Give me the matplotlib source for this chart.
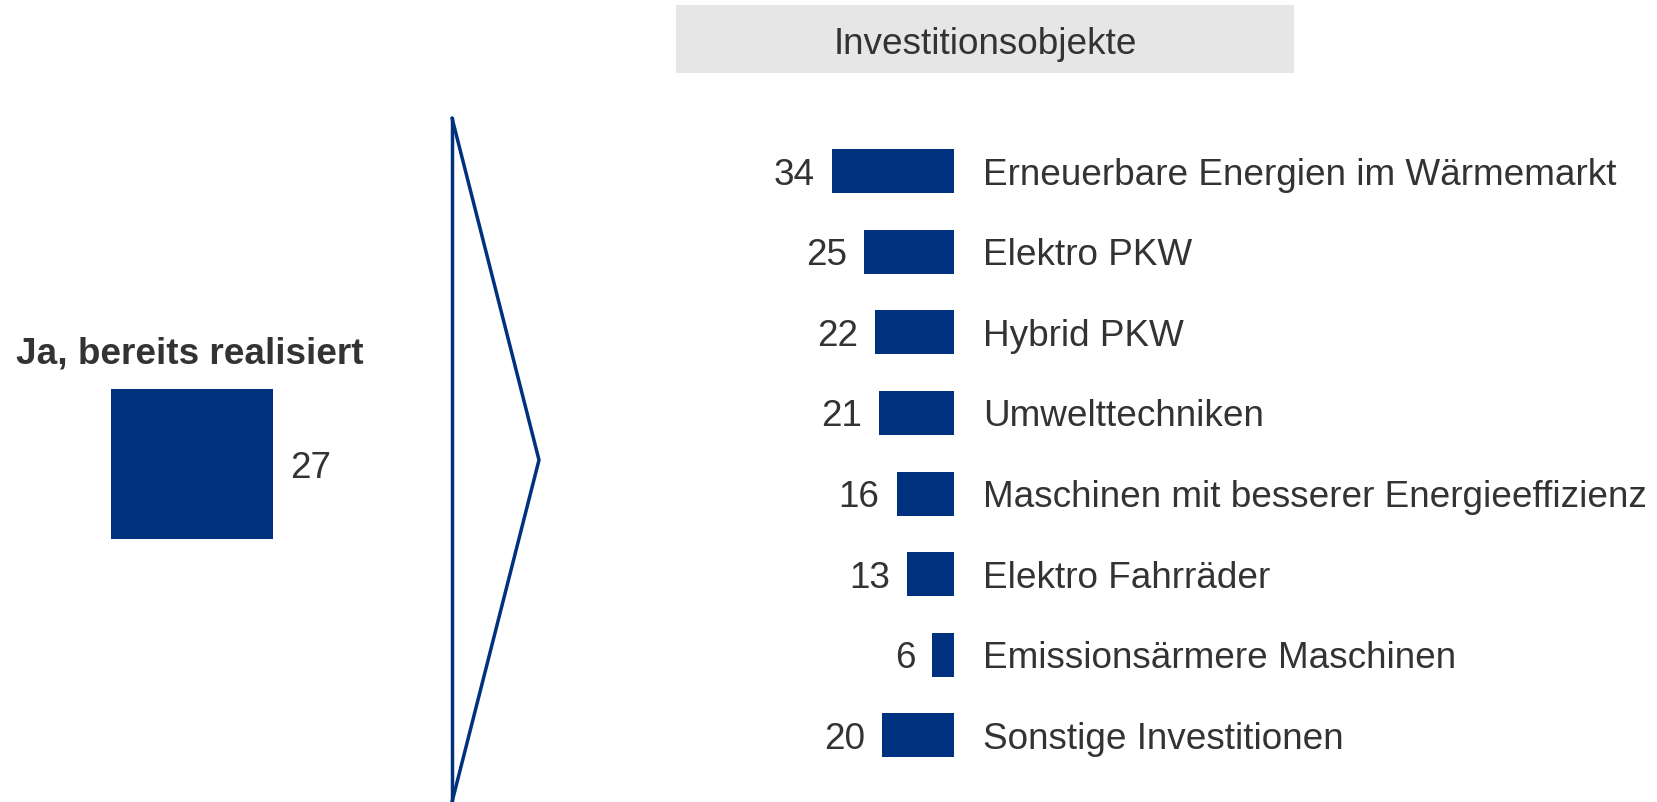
import matplotlib
matplotlib.use("Agg")
import matplotlib.pyplot as plt
from matplotlib.lines import Line2D
from matplotlib.patches import Rectangle

# ---- data ----
categories = ["Erneuerbare Energien im Wärmemarkt", "Elektro PKW", "Hybrid PKW",
              "Umwelttechniken", "Maschinen mit besserer Energieeffizienz",
              "Elektro Fahrräder", "Emissionsärmere Maschinen", "Sonstige Investitionen"]
values = [34, 25, 22, 21, 16, 13, 6, 20]
left_label = "Ja, bereits realisiert"
left_value = 27
header = "Investitionsobjekte"

BLUE = "#00317F"
TXT = "#333333"
FS = 26.6
VA = "center_baseline"

W, H = 1657, 802
plt.rcParams['font.family'] = ['Liberation Sans', 'DejaVu Sans']
fig = plt.figure(figsize=(W / 100, H / 100), dpi=100)

def rect(x0, y0, x1, y1):
    return [x0 / W, 1 - y1 / H, (x1 - x0) / W, (y1 - y0) / H]

def fx(x):
    return x / W

def fy(y):
    return 1 - y / H

# header box
fig.add_artist(Rectangle((fx(676), fy(73)), (1294 - 676) / W, (73 - 5) / H,
                         transform=fig.transFigure, facecolor="#E6E6E6", edgecolor="none"))
fig.text(fx(985), fy(41), header, ha="center", va=VA, fontsize=FS, color=TXT)

# arrow decoration
fig.add_artist(Line2D([fx(452), fx(452)], [fy(118), fy(802)], transform=fig.transFigure,
                      color=BLUE, lw=2.5, solid_capstyle="round"))
fig.add_artist(Line2D([fx(452), fx(539), fx(452)], [fy(118), fy(460), fy(802)],
                      transform=fig.transFigure, color=BLUE, lw=2.5,
                      solid_joinstyle="miter", solid_capstyle="round"))

# left square
axL = fig.add_axes(rect(111, 389, 273, 539))
axL.bar([0], [left_value], width=1.0, color=BLUE)
axL.set_xlim(-0.5, 0.5)
axL.set_ylim(0, left_value)
axL.axis("off")
axL.annotate(str(left_value), (0.5, left_value / 2), xytext=(17 * 0.72, 0),
             textcoords="offset points", ha="left", va=VA, fontsize=FS, color=TXT)
fig.text(fx(190), fy(350), left_label, ha="center", va=VA, fontsize=FS,
         fontweight="bold", color=TXT)

# right bars
pxu = 3.59
xmax = 35
axR = fig.add_axes(rect(954 - xmax * pxu, 130.7, 954, 775.8))
ypos = list(range(len(values)))
axR.barh(ypos, values, height=0.546, color=BLUE)
axR.set_xlim(xmax, 0)
axR.set_ylim(len(values) - 0.5, -0.5)
axR.axis("off")
for i, (v, c) in enumerate(zip(values, categories)):
    axR.annotate(str(v), (v, i), xytext=(-17 * 0.72, 0), textcoords="offset points",
                 ha="right", va=VA, fontsize=FS, color=TXT)
    axR.annotate(c, (0, i), xytext=(29 * 0.72, 0), textcoords="offset points",
                 ha="left", va=VA, fontsize=FS, color=TXT)

fig.savefig("out.png", dpi=100, facecolor="white")
